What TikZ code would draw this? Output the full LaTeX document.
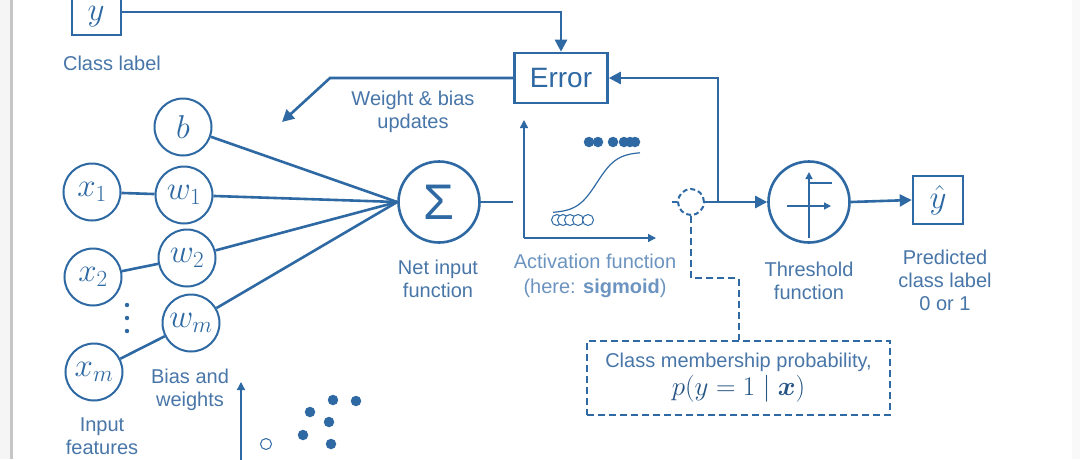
\documentclass[tikz,border=0pt]{standalone}
\usepackage{fix-cm}
\usepackage{amsmath}
\usepackage[no-math]{fontspec}
\setmainfont{Liberation Sans}
\usetikzlibrary{arrows.meta}
\definecolor{lineblue}{RGB}{46,105,163}
\definecolor{txtblue}{RGB}{72,118,168}
\definecolor{lightblue}{RGB}{108,148,192}
\tikzset{
  ln/.style={draw=lineblue, line width=2.6pt},
  arr/.style={ln, -{Triangle[length=12pt,width=12pt]}},
  thinarr/.style={draw=lineblue, line width=1.4pt, -{Triangle[length=8pt,width=8pt]}},
  mathfont/.style={font=\fontsize{33}{35}\selectfont},
  neuron/.style={circle, draw=lineblue, line width=2pt, minimum size=57pt, inner sep=0pt, text=lineblue, mathfont},
  bigcirc/.style={circle, draw=lineblue, line width=2.6pt, minimum size=81pt, inner sep=0pt, text=lineblue},
  boxnode/.style={draw=lineblue, line width=2.6pt, text=lineblue, inner sep=0pt},
  lbl/.style={text=txtblue, font=\fontsize{20}{23}\selectfont, align=center, inner sep=0pt},
  lbllight/.style={text=lightblue, font=\fontsize{20}{25}\selectfont, align=center, inner sep=0pt},
  dashbox/.style={draw=lineblue, line width=2pt, dash pattern=on 7pt off 4pt},
  dot/.style={circle, fill=lineblue, inner sep=0pt, minimum size=10.5pt},
  odot/.style={circle, draw=lineblue, fill=white, line width=1pt, inner sep=0pt, minimum size=11pt},
}
\begin{document}
\begin{tikzpicture}[x=1pt,y=-1pt]
\useasboundingbox (0,0) rectangle (1080,459);
\fill[white] (0,0) rectangle (1080,459);
% frame edges
\fill[gray!8] (0,0) rectangle (9.5,459);
\fill[gray!45] (9.5,0) rectangle (12.5,459);
\fill[gray!5] (1072,0) rectangle (1080,459);

% top class label box (cut off at the top edge)
\coordinate (yboxNW) at (72,-5);
\coordinate (yboxSE) at (121,35);
\draw[ln] (yboxNW) rectangle (yboxSE);
\node[text=lineblue, mathfont, inner sep=0pt] (ybox) at (96,17) {$y$};
\node[lbl] (classlbl) at (112,63) {Class label};

% Error
\node[boxnode, minimum width=93pt, minimum height=50pt, font=\fontsize{28}{30}\selectfont] (err) at (561,78) {Error};
\coordinate (ytop) at (121,12);
\draw[arr] (ytop) -| (err.north);

% weight updates arrow
\coordinate (wbend) at (330,78);
\coordinate (wtip) at (282,122);
\draw[arr] (err.west) -- (wbend) -- (wtip);
\node[lbl] (updlbl) at (413,112) {Weight \& bias\\updates};

% neurons
\node[neuron] (b) at (183,127) {$b$};
\node[neuron] (x1) at (92,192) {$x_1$};
\node[neuron] (w1) at (184,195) {$w_1$};
\node[neuron] (x2) at (93,277) {$x_2$};
\node[neuron] (w2) at (187,258) {$w_2$};
\node[neuron] (wm) at (191,323) {$w_m$};
\node[neuron] (xm) at (94,372) {$x_m$};
\foreach \yy in {305,318,331} \fill[lineblue] (127,\yy) circle (2.2pt);

\node[bigcirc, font=\fontsize{50}{52}\selectfont] (sigma) at (439,202) {Σ};

\draw[ln] (x1) -- (w1);
\draw[ln] (x2) -- (w2);
\draw[ln] (xm) -- (wm);
\foreach \n in {b,w1,w2,wm} \draw[ln] (\n) -- (sigma.west);

\node[lbl] (inlbl) at (102,436) {Input\\features};
\node[lbl] (bwlbl) at (190,390) {Bias and\\weights};
\node[lbl] (netlbl) at (438,279) {Net input\\function};

% sigma output stub
\coordinate (sigend) at (513,202);
\draw[ln] (sigma.east) -- (sigend);

% activation plot
\coordinate (aorig) at (524,238);
\coordinate (atop) at (524,120);
\coordinate (aright) at (656,238);
\draw[thinarr] (aorig) -- (atop);
\draw[thinarr] (aorig) -- (aright);
\draw[lineblue, line width=1.2pt] plot[domain=553:640, samples=60] (\x,{213-61/(1+exp(-(\x-597)/10))});
\foreach \xx in {589,598,613,624,630,635} \node[dot] at (\xx,142) {};
\foreach \xx in {557,563,570,578,588} \node[odot] at (\xx,220) {};
\node[lbllight] (actlbl) at (595,276) {Activation function\\(here: \textbf{sigmoid})};

% probe (dashed small circle)
\node[circle, dashbox, dash pattern=on 5pt off 3pt, minimum size=26pt, inner sep=0pt] (probe) at (691,202) {};
\coordinate (probeL) at (672,202);
\draw[ln, line width=2pt] (probeL) -- (probe.west);

% threshold
\node[bigcirc] (thr) at (809,202) {};
\coordinate (junc) at (718,202);
\draw[arr] (probe.east) -- (thr.west);
\draw[arr] (junc) |- (err.east);
\draw[thinarr, -{Triangle[length=7pt,width=7pt]}] (789,206) -- (831,206);
\draw[thinarr, -{Triangle[length=7pt,width=7pt]}] (809,238) -- (809,172);
\draw[lineblue, line width=2.6pt] (787,206) -- (809,206) -- (809,183) -- (832,183);
\node[lbl] (thrlbl) at (809,281) {Threshold\\function};

% output
\node[boxnode, minimum width=50pt, minimum height=48pt, mathfont] (yhat) at (938,200) {$\hat{y}$};
\draw[arr] (thr.east) -- (yhat.west);
\node[lbl] (predlbl) at (945,280) {Predicted\\class label\\0 or 1};

% class membership probability
\node[dashbox, minimum width=303pt, minimum height=74pt, inner sep=0pt, align=center, text=txtblue, font=\fontsize{20}{30}\selectfont] (prob) at (738.5,378) {Class membership probability,\\[-2pt]{\fontsize{27}{29}\selectfont\color{lineblue!80!black}$p(y = 1 \mid \boldsymbol{x})$}};
\draw[dashbox] (probe.south) -- ++(0,62) -| (prob.north);

% bottom scatter plot (cut off)
\coordinate (borig) at (241,470);
\coordinate (btop) at (241,382);
\draw[thinarr] (borig) -- (btop);
\node[dot] at (333,400) {};
\node[dot] at (356,401) {};
\node[dot] at (310,412) {};
\node[dot] at (329,422) {};
\node[dot] at (303,435) {};
\node[dot] at (331,444) {};
\node[odot] at (266,444) {};
\end{tikzpicture}
\end{document}
